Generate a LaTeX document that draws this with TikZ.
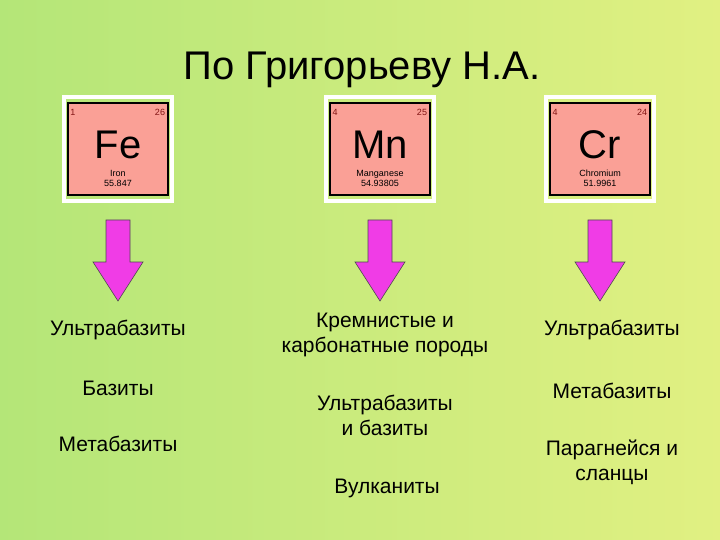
\documentclass[tikz,border=0pt]{standalone}
\usepackage{fontspec}
\setmainfont{Liberation Sans}
\definecolor{bgl}{RGB}{180,230,120}
\definecolor{bgr}{RGB}{225,240,130}
\definecolor{elem}{RGB}{250,160,150}
\definecolor{mag}{RGB}{240,60,230}
\definecolor{numc}{RGB}{130,20,20}
\begin{document}
\begin{tikzpicture}[x=1pt,y=-1pt,
  txt/.style={font=\fontsize{21}{25}\selectfont,align=center},
  elbox/.style={fill=elem,draw=black,line width=1.5pt,minimum width=100pt,minimum height=92pt},
  dnarrow/.style={fill=mag,draw=black!70,line width=0.6pt}]
\useasboundingbox (0,0) rectangle (720,540);
\shade[left color=bgl,right color=bgr] (0,0) rectangle (720,540);
\node[font=\fontsize{40}{42}\selectfont] (title) at (362,70) {По Григорьеву Н.А.};
\foreach \n/\x/\sym/\nm/\w/\a/\b in {fe/118/Fe/Iron/55.847/1/26, mn/380/Mn/Manganese/54.93805/4/25, cr/600/Cr/Chromium/51.9961/4/24}{
  \draw[white,line width=4pt] (\x-54,97) rectangle (\x+54,201);
  \node[elbox] (\n) at (\x,149) {};
  \node[font=\fontsize{9}{9}\selectfont,text=numc] (\n a) at (\x-45,112) {\a};
  \node[font=\fontsize{9}{9}\selectfont,text=numc] (\n b) at (\x+42,112) {\b};
  \node[font=\fontsize{40}{40}\selectfont] (\n s) at (\x,145) {\sym};
  \node[font=\fontsize{9}{10}\selectfont,align=center] (\n n) at (\x,178) {\nm\\\w};
  \draw[dnarrow] (\x-12,220) -- (\x+12,220) -- (\x+12,262) -- (\x+25,262) -- (\x,301) -- (\x-25,262) -- (\x-12,262) -- cycle;
}
\node[txt] (l1) at (118,330) {Ультрабазиты};
\node[txt] (l2) at (118,388) {Базиты};
\node[txt] (l3) at (118,444) {Метабазиты};
\node[txt] (m1) at (385,335) {Кремнистые и\\карбонатные породы};
\node[txt] (m2) at (385,415) {Ультрабазиты\\и базиты};
\node[txt] (m3) at (387,488) {Вулканиты};
\node[txt] (r1) at (612,330) {Ультрабазиты};
\node[txt] (r2) at (612,391) {Метабазиты};
\node[txt] (r3) at (612,462) {Парагнейся и\\сланцы};
\end{tikzpicture}
\end{document}
